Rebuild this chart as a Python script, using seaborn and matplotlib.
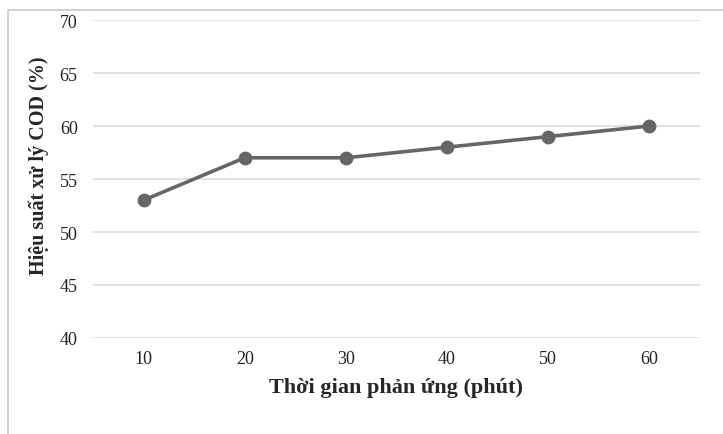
import matplotlib
matplotlib.use('Agg')
import matplotlib.pyplot as plt
from matplotlib.patches import Rectangle
import seaborn as sns
import pandas as pd

thoi_gian = ['10', '20', '30', '40', '50', '60']
hieu_suat = [53, 57, 57, 58, 59, 60]

df = pd.DataFrame({'Thời gian': thoi_gian, 'Hiệu suất': hieu_suat})

sns.set_style('white')
plt.rcParams['font.family'] = ['Liberation Serif', 'DejaVu Serif']

fig = plt.figure(figsize=(7.23, 4.35), dpi=100)
ax = fig.add_axes([0.1286, 0.2207, 0.8394, 0.731])

# outer frame like the Excel chart area
fig.patches.append(Rectangle((8 / 723, -0.1), 1.2, 1 - 11 / 435 + 0.1,
                             transform=fig.transFigure, fill=False,
                             edgecolor='#c8c8c8', linewidth=1.2, zorder=0))

sns.pointplot(data=df, x='Thời gian', y='Hiệu suất', color='#666666',
              markers='o', markersize=8, linewidth=2.6, ax=ax, errorbar=None)

ax.set_xlim(-0.5, 5.5)
ax.set_ylim(40, 70)
ax.set_yticks(range(40, 71, 5))
ax.yaxis.grid(True, color='#d9d9d9', linewidth=1.1)
ax.set_axisbelow(True)
for s in ax.spines.values():
    s.set_visible(False)
ax.tick_params(axis='both', length=0, labelsize=13, colors='#222222')
ax.tick_params(axis='y', pad=11)
ax.tick_params(axis='x', pad=9)

ax.set_xlabel('Thời gian phản ứng (phút)', fontsize=16, fontweight='bold', labelpad=7)
ax.set_ylabel('Hiệu suất xử lý COD (%)', fontsize=14.5, fontweight='bold')
ax.yaxis.set_label_coords(-0.072, 0.545)

fig.savefig('out.png', dpi=100)
